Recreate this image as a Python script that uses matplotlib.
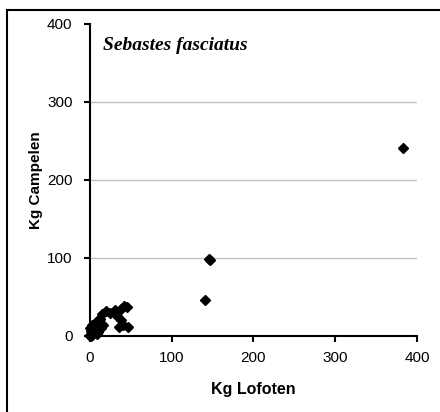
import matplotlib.pyplot as plt
import matplotlib.patches as mpatches

# Daten
kg_lofoten = [383, 145, 147, 141,
              42, 45, 38, 30, 25, 20, 15,
              33, 38, 40, 46, 35,
              12, 10, 8, 6, 5, 4, 3, 2, 1, 0.5, 0, 1, 2, 3,
              5, 7, 10, 12, 14, 16, 3, 0, 1, 8, 10]
kg_campelen = [241, 99, 98, 46,
               38, 37, 35, 33, 30, 32, 28,
               25, 20, 14, 12, 12,
               22, 20, 18, 15, 12, 10, 8, 5, 3, 1, 0, 0.5, 2, 1,
               5, 8, 12, 15, 10, 14, 14, 10, 6, 3, 5]
ticks = [0, 100, 200, 300, 400]

plt.rcParams['font.family'] = ['Liberation Sans', 'DejaVu Sans']

fig = plt.figure(figsize=(4.4, 4.12), dpi=100)
ax = fig.add_axes([0.2045, 0.1845, 0.7432, 0.7573])

ax.plot(kg_lofoten, kg_campelen, linestyle='none', marker='D',
        markersize=5.2, color='black', clip_on=False, zorder=3)

ax.set_xlim(0, 400)
ax.set_ylim(0, 400)
ax.set_xticks(ticks)
ax.set_yticks(ticks)
ax.tick_params(direction='out', length=4, width=1.5, labelsize=11)
ax.tick_params(axis='x', pad=7)
ax.tick_params(axis='y', pad=8.5)

ax.grid(axis='y', color='#c0c0c0', linewidth=1)
ax.get_ygridlines()[0].set_visible(False)
ax.get_ygridlines()[-1].set_visible(False)
ax.set_axisbelow(True)

for s in ['top', 'right']:
    ax.spines[s].set_visible(False)
for s in ['left', 'bottom']:
    ax.spines[s].set_linewidth(1.5)

ax.set_xlabel('Kg Lofoten', fontsize=11.5, fontweight='bold', labelpad=12)
ax.set_ylabel('Kg Campelen', fontsize=11, fontweight='bold', labelpad=3)

ax.text(0.04, 0.93, 'Sebastes fasciatus', transform=ax.transAxes,
        fontsize=14, fontweight='bold', fontstyle='italic',
        family=['Liberation Serif', 'DejaVu Serif'], va='center', ha='left')

# Rahmen um die Grafik
frame = mpatches.Rectangle((7 / 440, -0.1), 1.2, (412 - 10) / 412 + 0.1,
                           transform=fig.transFigure, fill=False,
                           edgecolor='black', linewidth=1.5)
fig.patches.append(frame)

plt.savefig('out.png', dpi=100)
